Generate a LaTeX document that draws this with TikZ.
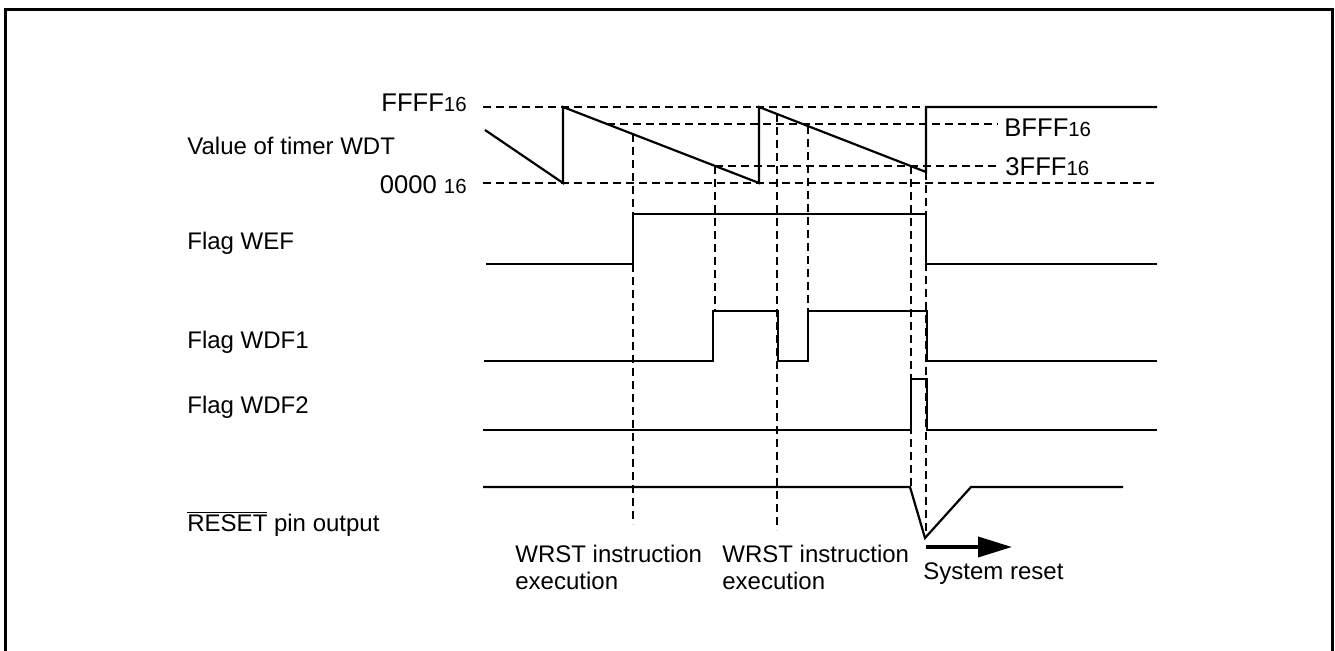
\documentclass[tikz,border=0pt]{standalone}
\usepackage{fontspec}
\setmainfont{Liberation Sans}
\usetikzlibrary{arrows.meta}
\tikzset{
  sig/.style={line width=1.1pt},
  guide/.style={line width=0.55pt,dash pattern=on 4pt off 2.5pt},
  lbl/.style={inner sep=0pt,anchor=base west,font=\fontsize{12}{13.5}\selectfont},
  lblr/.style={lbl,anchor=base east},
  hexlbl/.style={lbl,font=\fontsize{12.8}{14}\selectfont},
}
\newcommand{\hexsub}{{\fontsize{10.2}{11}\selectfont 16}}

\begin{document}
\begin{tikzpicture}[x=0.5pt,y=-0.5pt]
\useasboundingbox (0,0) rectangle (1335,651);
\pgfmathsetmacro{\yFFFF}{107}
\pgfmathsetmacro{\yBFFF}{124}
\pgfmathsetmacro{\yTFFF}{166}
\pgfmathsetmacro{\yZero}{183}
\draw[line width=1.5pt] (5,651) -- (5,10) -- (1332,10) -- (1332,651);
\draw[guide] (483,\yFFFF) -- (926,\yFFFF);
\draw[guide] (607,\yBFFF) -- (998,\yBFFF);
\draw[guide] (715,\yTFFF) -- (998,\yTFFF);
\draw[guide] (483,\yZero) -- (1157,\yZero);
\draw[guide] (633,134) -- (633,524);
\draw[guide] (715,\yTFFF) -- (715,311);
\draw[guide] (777,114) -- (777,530);
\draw[guide] (808,126) -- (808,311);
\draw[guide] (911,\yTFFF) -- (911,487);
\draw[guide] (926,172) -- (926,538);
\draw[sig] (485,130) -- (563,\yZero) -- (563,\yFFFF) -- (759,\yZero) -- (759,\yFFFF) -- (926,172) -- (926,\yFFFF) -- (1157,\yFFFF);
\draw[sig] (486,264) -- (633,264) -- (633,214) -- (926,214) -- (926,264) -- (1157,264);
\draw[sig] (484,361) -- (713,361) -- (713,311) -- (778,311) -- (778,361) -- (808,361) -- (808,311) -- (927,311) -- (927,361) -- (1157,361);
\draw[sig] (483,430) -- (911,430) -- (911,379) -- (927,379) -- (927,430) -- (1157,430);
\draw[sig] (483,487) -- (910,487) -- (925,538) -- (971,487) -- (1123,487);
\draw[line width=1.8pt,-{Triangle[length=17pt,width=10pt]}] (926,547) -- (1012,547);
\node[hexlbl,anchor=base east] (lblFFFF) at (467,112) {FFFF\hexsub};
\node[lbl] (lblTimer) at (187,155) {Value of timer WDT};
\node[hexlbl,anchor=base east] (lblZero) at (467,194) {0000 \hexsub};
\node[hexlbl] (lblBFFF) at (1004,137) {BFFF\hexsub};
\node[hexlbl] (lblTFFF) at (1005,176) {3FFF\hexsub};
\node[lbl] (lblWEF) at (187,250) {Flag WEF};
\node[lbl] (lblWDF1) at (187,349) {Flag WDF1};
\node[lbl] (lblWDF2) at (187,414) {Flag WDF2};
\node[lbl] (lblReset) at (187,532) {$\overline{\mbox{RESET}}$ pin output};
\node[lbl,anchor=north west,align=left] (lblWrstA) at (515,545) {WRST instruction\\execution};
\node[lbl,anchor=north west,align=left] (lblWrstB) at (722,545) {WRST instruction\\execution};
\node[lbl] (lblSysReset) at (923,580) {System reset};
\end{tikzpicture}
\end{document}
